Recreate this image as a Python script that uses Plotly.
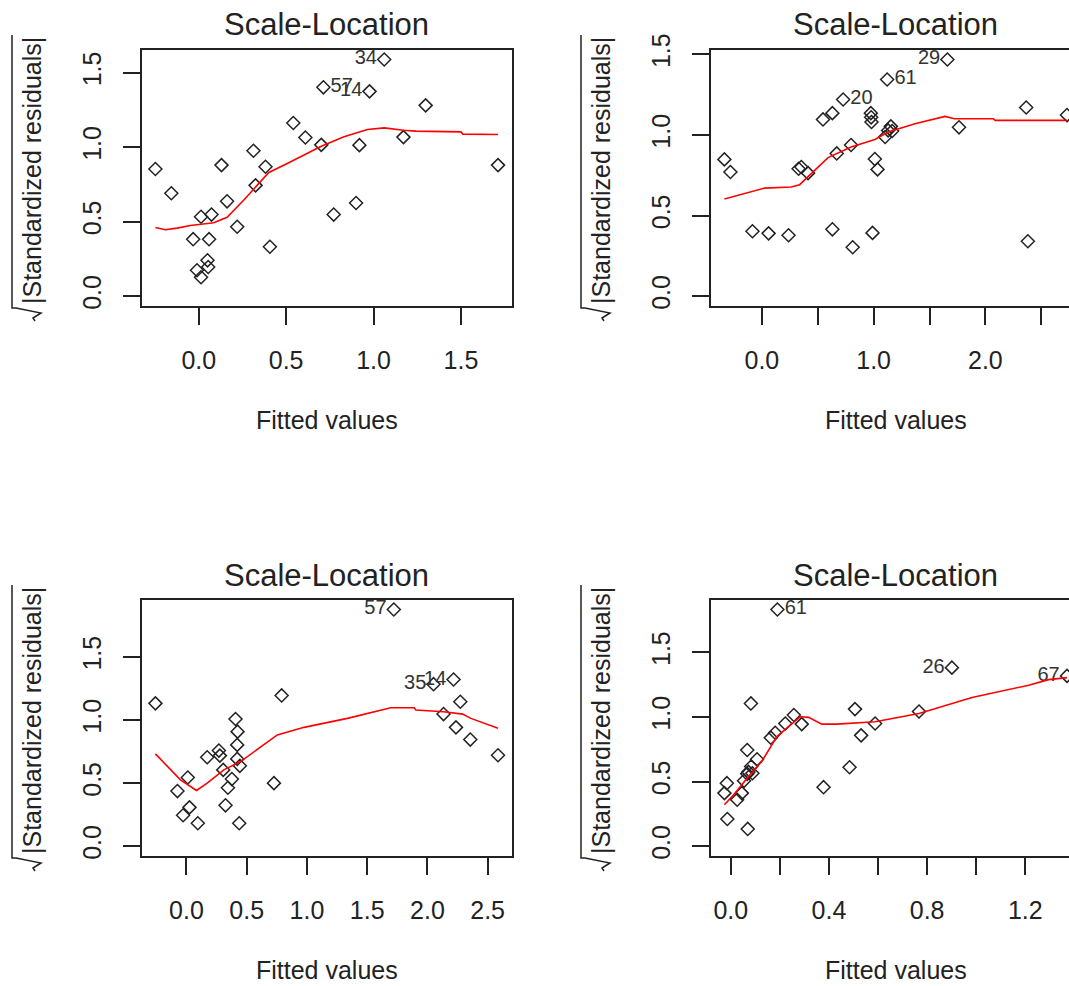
import plotly.graph_objects as go

W, H = 1069, 986
FONT = "Liberation Sans, Arial, Helvetica, sans-serif"
INK = "#222222"

# ---------------- data: fitted values vs sqrt(|standardized residuals|) ----------------
# model A (top left)
fit_a = [-0.248, -0.157, -0.032, 0.013, 0.073, 0.059, 0.050, 0.054, -0.010, 0.013,
         0.130, 0.162, 0.220, 0.313, 0.325, 0.382, 0.407, 0.541, 0.610, 0.701,
         0.713, 0.977, 1.061, 0.772, 0.900, 0.919, 1.171, 1.298, 1.712]
srs_a = [0.854, 0.691, 0.383, 0.533, 0.548, 0.383, 0.241, 0.196, 0.174, 0.127,
         0.880, 0.637, 0.466, 0.976, 0.744, 0.869, 0.332, 1.163, 1.065, 1.016,
         1.402, 1.375, 1.589, 0.548, 0.626, 1.014, 1.068, 1.281, 0.880]
id_pos_a = [20, 21, 22]
id_txt_a = ["57", "14", "34"]
smooth_x_a = [-0.248, -0.191, -0.124, -0.048, 0.086, 0.162, 0.258, 0.325, 0.401, 0.506,
              0.701, 0.831, 0.919, 0.965, 1.061, 1.118, 1.171, 1.242, 1.500, 1.511, 1.712]
smooth_y_a = [0.461, 0.446, 0.457, 0.475, 0.493, 0.530, 0.646, 0.735, 0.831, 0.891,
              1.007, 1.070, 1.103, 1.119, 1.130, 1.121, 1.114, 1.108, 1.103, 1.088, 1.085]

# model B (top right)
fit_b = [-0.335, -0.281, -0.084, 0.060, 0.239, 0.329, 0.353, 0.413, 0.547, 0.631,
         0.631, 0.670, 0.727, 0.798, 0.813, 0.975, 0.981, 0.978, 0.990, 1.011,
         1.035, 1.103, 1.130, 1.154, 1.166, 1.121, 1.660, 1.764, 2.365, 2.380, 2.730]
srs_b = [0.849, 0.771, 0.403, 0.390, 0.378, 0.791, 0.802, 0.764, 1.097, 1.136,
         0.415, 0.886, 1.221, 0.938, 0.304, 1.136, 1.081, 1.110, 0.393, 0.851,
         0.787, 0.988, 1.029, 1.054, 1.025, 1.345, 1.469, 1.048, 1.171, 0.341, 1.124]
id_pos_b = [12, 25, 26]
id_txt_b = ["20", "61", "29"]
smooth_x_b = [-0.335, -0.185, 0.024, 0.263, 0.338, 0.592, 0.798, 1.011, 1.130, 1.370,
              1.639, 1.722, 2.072, 2.087, 2.730]
smooth_y_b = [0.603, 0.632, 0.671, 0.678, 0.692, 0.860, 0.926, 0.973, 1.019, 1.070,
              1.116, 1.101, 1.101, 1.091, 1.091]

# model C (bottom left)
fit_c = [-0.258, -0.075, 0.011, 0.025, -0.028, 0.094, 0.172, 0.269, 0.277, 0.305,
         0.324, 0.344, 0.377, 0.407, 0.424, 0.421, 0.421, 0.443, 0.438, 0.726,
         0.790, 1.721, 2.051, 2.217, 2.134, 2.273, 2.237, 2.356, 2.586]
srs_c = [1.132, 0.437, 0.545, 0.308, 0.245, 0.182, 0.705, 0.758, 0.718, 0.605,
         0.324, 0.463, 0.532, 1.008, 0.908, 0.803, 0.692, 0.637, 0.182, 0.500,
         1.195, 1.876, 1.284, 1.321, 1.047, 1.145, 0.942, 0.845, 0.721]
id_pos_c = [21, 22, 23]
id_txt_c = ["57", "35", "14"]
smooth_x_c = [-0.258, -0.050, 0.083, 0.172, 0.310, 0.449, 0.754, 0.976, 1.336, 1.696,
              1.890, 1.904, 2.134, 2.292, 2.361, 2.586]
smooth_y_c = [0.732, 0.526, 0.442, 0.500, 0.605, 0.671, 0.882, 0.942, 1.013, 1.097,
              1.097, 1.079, 1.066, 1.047, 1.013, 0.934]

# model D (bottom right)
fit_d = [-0.016, -0.026, -0.014, 0.026, 0.045, 0.067, 0.054, 0.072, 0.088, 0.083,
         0.067, 0.082, 0.069, 0.107, 0.163, 0.181, 0.222, 0.257, 0.289, 0.190,
         0.378, 0.484, 0.506, 0.531, 0.588, 0.767, 0.901, 1.370]
srs_d = [0.488, 0.411, 0.211, 0.360, 0.411, 0.560, 0.506, 0.575, 0.565, 0.617,
         0.745, 1.105, 0.134, 0.673, 0.840, 0.878, 0.950, 1.015, 0.945, 1.832,
         0.457, 0.611, 1.061, 0.858, 0.950, 1.043, 1.382, 1.318]
id_pos_d = [19, 26, 27]
id_txt_d = ["61", "26", "67"]
smooth_x_d = [-0.026, 0.018, 0.072, 0.126, 0.188, 0.283, 0.317, 0.371, 0.432, 0.588,
              0.767, 0.983, 1.214, 1.295, 1.370]
smooth_y_d = [0.321, 0.411, 0.539, 0.655, 0.848, 1.002, 0.997, 0.945, 0.945, 0.963,
              1.027, 1.151, 1.246, 1.289, 1.305]

# tick marks / labels
x_ticks_a = [0.0, 0.5, 1.0, 1.5]
x_text_a = ["0.0", "0.5", "1.0", "1.5"]
x_ticks_b = [0.0, 0.5, 1.0, 1.5, 2.0, 2.5]
x_text_b = ["0.0", "", "1.0", "", "2.0", ""]
x_ticks_c = [0.0, 0.5, 1.0, 1.5, 2.0, 2.5]
x_text_c = ["0.0", "0.5", "1.0", "1.5", "2.0", "2.5"]
x_ticks_d = [0.0, 0.2, 0.4, 0.6, 0.8, 1.0, 1.2]
x_text_d = ["0.0", "", "0.4", "", "0.8", "", "1.2"]
y_ticks = [0.0, 0.5, 1.0, 1.5]
y_text = ["0.0", "0.5", "1.0", "1.5"]

TITLE = "Scale-Location"
XLAB = "Fitted values"
YLAB = "|Standardized residuals|"

panels = [
    dict(col=0, row=0, x=fit_a, y=srs_a, ip=id_pos_a, it=id_txt_a,
         sx=smooth_x_a, sy=smooth_y_a, xt=x_ticks_a, xl=x_text_a),
    dict(col=1, row=0, x=fit_b, y=srs_b, ip=id_pos_b, it=id_txt_b,
         sx=smooth_x_b, sy=smooth_y_b, xt=x_ticks_b, xl=x_text_b),
    dict(col=0, row=1, x=fit_c, y=srs_c, ip=id_pos_c, it=id_txt_c,
         sx=smooth_x_c, sy=smooth_y_c, xt=x_ticks_c, xl=x_text_c),
    dict(col=1, row=1, x=fit_d, y=srs_d, ip=id_pos_d, it=id_txt_d,
         sx=smooth_x_d, sy=smooth_y_d, xt=x_ticks_d, xl=x_text_d),
]

# plot-box geometry in pixels
BOX_L = [141.7, 710.7]
BOX_T = [50.0, 600.0]
BOX_W = 370.0
BOX_H = 255.7


def px(x):
    return x / W


def py(y):
    return 1 - y / H


fig = go.Figure()
annotations = []
shapes = []

for i, p in enumerate(panels, start=1):
    x0 = BOX_L[p["col"]]
    x1 = x0 + BOX_W
    x1v = min(x1, W)
    t = BOX_T[p["row"]]
    b = t + BOX_H

    # R-style 4% padding around data ranges; y starts from zero
    xmin, xmax = min(p["x"]), max(p["x"])
    pad = 0.04 * (xmax - xmin)
    lo, hi = xmin - pad, xmax + pad
    hi_vis = lo + (hi - lo) * (x1v - x0) / BOX_W
    ymax = max(p["y"])
    yr = [-0.04 * ymax, 1.04 * ymax]

    xa = "x" if i == 1 else f"x{i}"
    ya = "y" if i == 1 else f"y{i}"
    xkey = "xaxis" if i == 1 else f"xaxis{i}"
    ykey = "yaxis" if i == 1 else f"yaxis{i}"

    mid = (xmin + xmax) / 2
    labels = [""] * len(p["x"])
    tpos = ["middle right"] * len(p["x"])
    for k, s in zip(p["ip"], p["it"]):
        labels[k] = s
        tpos[k] = "middle left" if p["x"][k] > mid else "middle right"

    fig.add_trace(go.Scatter(
        x=p["x"], y=p["y"], xaxis=xa, yaxis=ya, mode="markers+text",
        text=labels, textposition=tpos, cliponaxis=False,
        textfont=dict(family=FONT, size=20, color="#333333"),
        marker=dict(symbol="diamond-open", size=10, color=INK,
                    line=dict(width=1.5, color=INK)),
        showlegend=False, hoverinfo="skip"))
    fig.add_trace(go.Scatter(
        x=p["sx"], y=p["sy"], xaxis=xa, yaxis=ya, mode="lines",
        line=dict(color="#ff0000", width=1.6),
        showlegend=False, hoverinfo="skip"))

    fig.layout[xkey] = dict(
        domain=[px(x0), px(x1v)], range=[lo, hi_vis], anchor=ya, automargin=False,
        tickmode="array", tickvals=p["xt"], ticktext=p["xl"],
        ticks="outside", ticklen=17, tickwidth=2, tickcolor=INK,
        showline=True, linewidth=2, linecolor=INK, mirror=True,
        showgrid=False, zeroline=False, ticklabelstandoff=14,
        tickfont=dict(family=FONT, size=25, color=INK))
    fig.layout[ykey] = dict(
        domain=[py(b), py(t)], range=yr, anchor=xa, automargin=False,
        tickmode="array", tickvals=y_ticks, ticktext=y_text, tickangle=-90,
        ticks="outside", ticklen=17, tickwidth=2, tickcolor=INK,
        showline=True, linewidth=2, linecolor=INK, mirror=(p["col"] == 0),
        showgrid=False, zeroline=False, ticklabelstandoff=12,
        tickfont=dict(family=FONT, size=25, color=INK))

    cx = x0 + BOX_W / 2
    annotations.append(dict(text=TITLE, x=px(cx), y=py(t - 25), xref="paper", yref="paper",
                            showarrow=False, xanchor="center", yanchor="middle",
                            font=dict(family=FONT, size=31, color=INK)))
    annotations.append(dict(text=XLAB, x=px(cx), y=py(b + 114), xref="paper", yref="paper",
                            showarrow=False, xanchor="center", yanchor="middle",
                            font=dict(family=FONT, size=25, color=INK)))

    # y-axis title: radical sign drawn as a path, label text beside it
    dx = x0 - 141.7
    dy = t - 50.0
    annotations.append(dict(text=YLAB, x=px(32 + dx), y=py(171 + dy), xref="paper", yref="paper",
                            showarrow=False, xanchor="center", yanchor="middle", textangle=-90,
                            font=dict(family=FONT, size=25, color=INK)))
    pts = [(12, 35), (12, 308), (16, 308), (41, 313), (33, 318), (35, 321)]
    path = "M " + " L ".join(f"{px(a + dx):.5f},{py(c + dy):.5f}" for a, c in pts)
    shapes.append(dict(type="path", path=path, xref="paper", yref="paper",
                       line=dict(color=INK, width=1.5)))

fig.update_layout(
    template="none",
    width=W, height=H, margin=dict(l=0, r=0, t=0, b=0, pad=0, autoexpand=False),
    paper_bgcolor="white", plot_bgcolor="white",
    annotations=annotations, shapes=shapes, showlegend=False)

fig.write_html("out.html", config={"displayModeBar": False})
